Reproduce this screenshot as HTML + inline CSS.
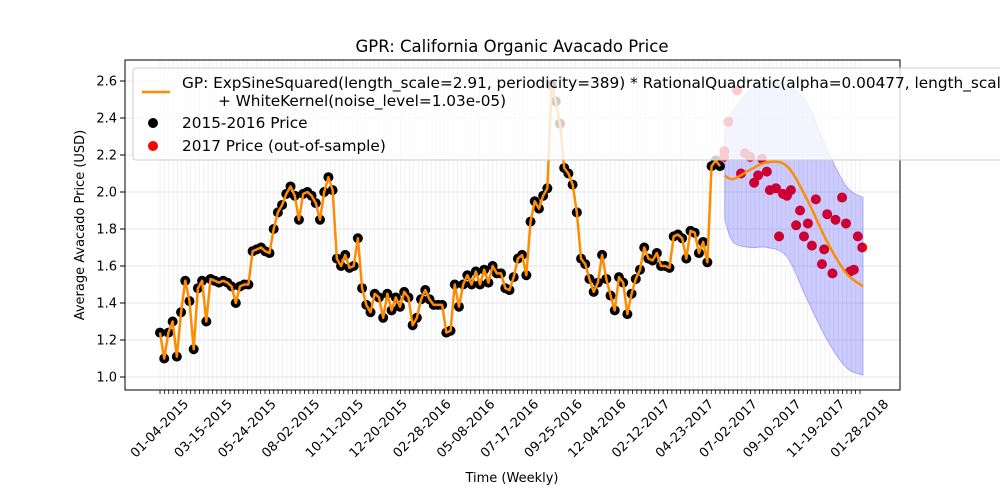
<!DOCTYPE html>
<html><head><meta charset="utf-8"><style>
body{margin:0;background:#fff}
svg{display:block;font-family:"DejaVu Sans","Liberation Sans",sans-serif}
</style></head><body>
<svg id="chart" width="1000" height="500" viewBox="0 0 1000 500">
<rect x="0" y="0" width="1000" height="500" fill="#fff"/>
<text x="512" y="52" font-size="16.5" text-anchor="middle">GPR: California Organic Avacado Price</text>
<g id="grid"></g>
<g id="plot"></g>
<rect x="125" y="60" width="775" height="330" fill="none" stroke="#000" stroke-width="1"/>
<g id="axes"></g>
<text x="512" y="482" font-size="13" text-anchor="middle">Time (Weekly)</text>
<text transform="translate(84,225) rotate(-90)" font-size="13" text-anchor="middle">Average Avacado Price (USD)</text>
<g>
<rect x="133" y="68" width="900" height="92" rx="3" fill="#fff" fill-opacity="0.8" stroke="#ccc"/>
<line x1="142" y1="92" x2="170" y2="92" stroke="#ff8c00" stroke-width="2.5"/>
<text x="182" y="88" font-size="15.3">GP: ExpSineSquared(length_scale=2.91, periodicity=389) * RationalQuadratic(alpha=0.00477, length_scale=</text>
<text x="218" y="106" font-size="15.3">+ WhiteKernel(noise_level=1.03e-05)</text>
<circle cx="153" cy="123" r="5" fill="#000"/>
<text x="182" y="128" font-size="15.3">2015-2016 Price</text>
<circle cx="153" cy="146" r="5" fill="#f00"/>
<text x="182" y="151" font-size="15.3">2017 Price (out-of-sample)</text>
</g>
</svg>
<script>
const tickLabels=["01-04-2015","03-15-2015","05-24-2015","08-02-2015","10-11-2015","12-20-2015","02-28-2016","05-08-2016","07-17-2016","09-25-2016","12-04-2016","02-12-2017","04-23-2017","07-02-2017","09-10-2017","11-19-2017","01-28-2018"];
const yTicks=[1.0,1.2,1.4,1.6,1.8,2.0,2.2,2.4,2.6];
const blackVals=[1.24,1.10,1.24,1.30,1.11,1.35,1.52,1.41,1.15,1.48,1.52,1.30,1.53,1.52,1.51,1.52,1.51,1.49,1.40,1.49,1.50,1.50,1.68,1.69,1.70,1.68,1.67,1.80,1.89,1.93,1.99,2.03,1.98,1.85,1.99,2.00,1.98,1.94,1.85,2.00,2.08,2.01,1.64,1.60,
1.66,1.59,1.60,1.75,1.48,1.39,1.35,1.45,1.43,1.32,1.45,1.36,1.43,1.38,1.46,1.43,1.28,1.32,1.42,1.47,1.42,1.39,1.39,1.39,1.24,1.25,1.50,1.38,1.50,1.55,1.50,1.57,1.50,1.58,1.51,1.60,1.56,1.56,1.48,1.47,1.54,1.64,1.66,1.55,1.84,1.95,
1.91,1.98,2.02,2.58,2.49,2.37,2.13,2.10,2.04,1.89,1.64,1.61,1.53,1.46,1.51,1.66,1.53,1.44,1.36,1.54,1.51,1.34,1.45,1.53,1.58,1.70,1.64,1.63,1.67,1.60,1.60,1.59,1.76,1.77,1.75,1.64,1.79,1.78,1.67,1.73,1.62,2.14,2.17,2.14];
const blackStartWeek=0, blackEndWeek=128;
const redWeeks=[131.9,129.9,129.0,128.9,133.7,134.9,137.6,132.8,135.8,136.7,138.7,139.4,140.8,142.4,143.3,144.2,141.5,146.3,145.4,148.1,147.2,149.0,149.9,151.8,151.3,152.5,154.4,153.7,155.9,156.8,157.7,158.6,159.5,160.5];
const redVals=[2.55,2.38,2.22,2.19,2.21,2.19,2.18,2.10,2.05,2.09,2.11,2.01,2.02,1.99,1.98,2.01,1.76,1.90,1.82,1.83,1.76,1.71,1.96,1.69,1.61,1.88,1.85,1.56,1.97,1.83,1.57,1.58,1.76,1.70];
const predWeeks=[129.1,131,134.9,138.7,143.3,147.9,152.5,156.9,160.7];
const predMean=[2.09,2.07,2.12,2.16,2.14,1.96,1.73,1.56,1.49];
const predUpper=[2.33,2.44,2.55,2.59,2.58,2.48,2.23,2.03,1.97];
const predLower=[1.85,1.73,1.70,1.70,1.65,1.42,1.20,1.05,1.01];

const NS="http://www.w3.org/2000/svg";
const X=w=>160+w*4.375;
const Y=v=>377-(v-1.0)*185;
function mk(tag,attrs,parent){const e=document.createElementNS(NS,tag);for(const k in attrs)e.setAttribute(k,attrs[k]);parent.appendChild(e);return e;}
function smooth(pts){let d=`M${pts[0][0]},${pts[0][1]}`;for(let i=0;i<pts.length-1;i++){const p0=pts[Math.max(0,i-1)],p1=pts[i],p2=pts[i+1],p3=pts[Math.min(pts.length-1,i+2)];const c1=[p1[0]+(p2[0]-p0[0])/6,p1[1]+(p2[1]-p0[1])/6],c2=[p2[0]-(p3[0]-p1[0])/6,p2[1]-(p3[1]-p1[1])/6];d+=` C${c1[0]},${c1[1]} ${c2[0]},${c2[1]} ${p2[0]},${p2[1]}`;}return d;}
const grid=document.getElementById('grid'),plot=document.getElementById('plot'),axes=document.getElementById('axes');
for(let w=0;w<=160;w++){const l=mk('line',{x1:X(w),x2:X(w),y1:60,y2:390,stroke:'#f0f0f0','stroke-width':1},grid);

const t=mk('line',{x1:X(w),x2:X(w),y1:390,y2:394,stroke:'#000','stroke-width':0.8},axes);
}
yTicks.forEach(v=>{const l=mk('line',{x1:125,x2:900,y1:Y(v),y2:Y(v),stroke:'#e6e6e6','stroke-width':1},grid);

const t=mk('line',{x1:120,x2:125,y1:Y(v),y2:Y(v),stroke:'#000'},axes);

const tx=mk('text',{x:117,y:Y(v)+4.5,'font-size':13,'text-anchor':'end'},axes);tx.textContent=v.toFixed(1);
});
tickLabels.forEach((s,i)=>{const x=X(i*10);const tx=mk('text',{transform:`translate(${x},${429}) rotate(-45)`,'font-size':13,'text-anchor':'middle','dominant-baseline':'central'},axes);tx.textContent=s;
});
const n=blackVals.length;const bx=i=>X(blackStartWeek+(blackEndWeek-blackStartWeek)*i/(n-1));
blackVals.forEach((v,i)=>{const c=mk('circle',{cx:bx(i),cy:Y(v),r:5,fill:'#000'},plot);
});
const lp=mk('polyline',{points:blackVals.map((v,i)=>bx(i)+','+Y(v)).join(' '),fill:'none',stroke:'#ff8c00','stroke-width':2.5,'stroke-linejoin':'round'},plot);

redVals.forEach((v,i)=>{const c=mk('circle',{cx:X(redWeeks[i]),cy:Y(v),r:5,fill:'#f00'},plot);
});
const up=predWeeks.map((w,i)=>[X(w),Y(predUpper[i])]),lo=predWeeks.map((w,i)=>[X(w),Y(predLower[i])]).reverse();
let d=smooth(up);d+=' L'+lo[0][0]+','+lo[0][1]+smooth(lo).replace(/^M[^C]*/,' ')+' Z';
const band=mk('path',{d:d,fill:'#0000ff','fill-opacity':0.2,stroke:'#0000ff','stroke-opacity':0.25},plot);

const pm=mk('path',{d:smooth(predWeeks.map((w,i)=>[X(w),Y(predMean[i])])),fill:'none',stroke:'#ff8c00','stroke-width':2.5},plot);

</script>
</body></html>
